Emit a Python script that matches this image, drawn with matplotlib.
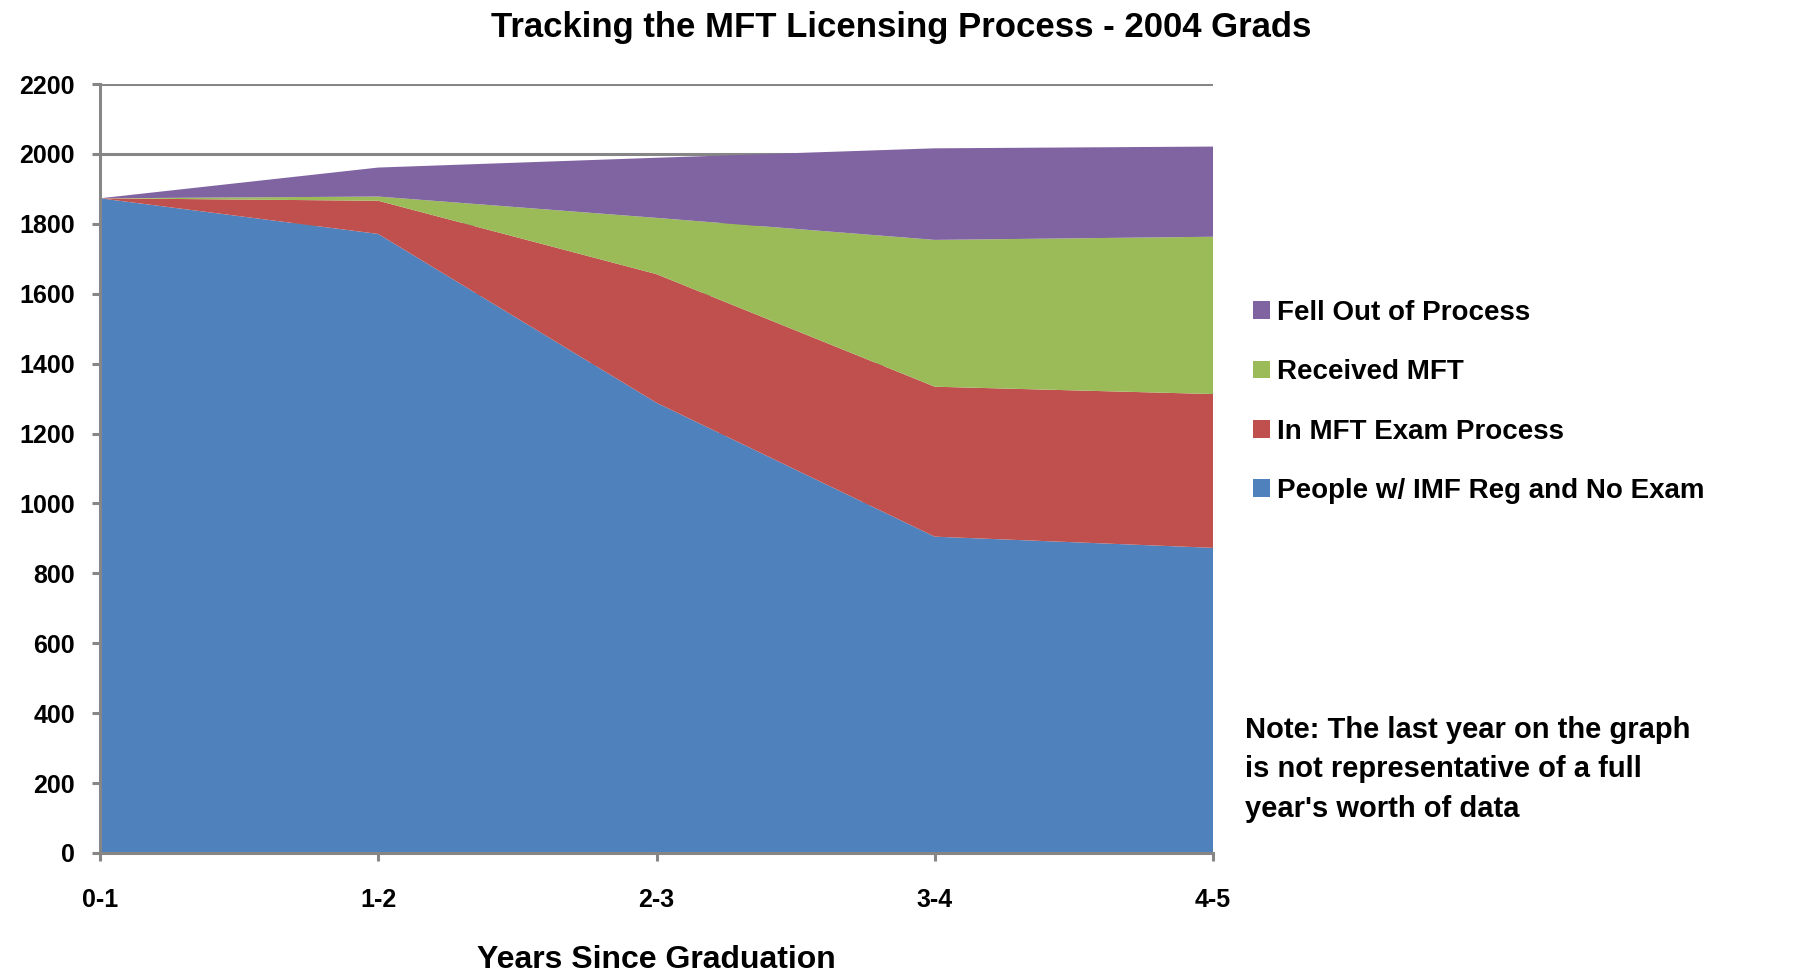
import matplotlib
matplotlib.use("Agg")
import matplotlib.pyplot as plt
from matplotlib.patches import Patch

plt.rcParams['font.family'] = ['Liberation Sans', 'DejaVu Sans']
plt.rcParams['font.weight'] = 'bold'

categories = ["0-1", "1-2", "2-3", "3-4", "4-5"]
no_exam = [1873, 1771, 1288, 905, 873]
in_exam = [0, 95, 368, 429, 440]
received = [0, 12, 161, 420, 450]
fell_out = [0, 83, 172, 262, 258]

series_labels = ["People w/ IMF Reg and No Exam", "In MFT Exam Process",
                 "Received MFT", "Fell Out of Process"]
colors = ["#4F81BD", "#C0504D", "#9BBB59", "#8064A2"]

W, H = 1796, 975
fig = plt.figure(figsize=(W / 100, H / 100), dpi=100)
ax = fig.add_axes([100 / W, 1 - 853 / H, (1213 - 100) / W, (853 - 84) / H])

x = list(range(len(categories)))
ax.stackplot(x, no_exam, in_exam, received, fell_out, colors=colors,
             linewidth=0, zorder=2)

ax.set_xlim(0, len(categories) - 1)
ax.set_ylim(0, 2200)
ax.set_yticks(range(0, 2201, 200))
ax.set_xticks(x)
ax.set_xticklabels(categories)

grid_col = "#868686"
ax.set_axisbelow(True)
ax.yaxis.grid(True, color=grid_col, linewidth=2.2)
ax.xaxis.grid(False)
for s in ["top", "right"]:
    ax.spines[s].set_visible(False)
for s in ["left", "bottom"]:
    ax.spines[s].set_color(grid_col)
    ax.spines[s].set_linewidth(2.2)
    ax.spines[s].set_zorder(3)

ax.tick_params(axis="both", colors=grid_col, width=2.2, length=6,
               labelcolor="black", labelsize=18)
ax.tick_params(axis="y", pad=12)
ax.tick_params(axis="x", pad=19)
for lab in ax.get_xticklabels() + ax.get_yticklabels():
    lab.set_fontweight("bold")

fig.text(901 / W, 1 - 27 / H, "Tracking the MFT Licensing Process - 2004 Grads",
         ha="center", va="center", fontsize=25, fontweight="bold")
fig.text(656 / W, 1 - 960 / H, "Years Since Graduation",
         ha="center", va="center", fontsize=23, fontweight="bold")

handles = [Patch(facecolor=c, edgecolor="none") for c in colors]
leg = fig.legend(handles[::-1], series_labels[::-1],
                 loc="upper left", bbox_to_anchor=(1253 / W, 1 - 300 / H),
                 frameon=False, fontsize=20, handlelength=0.6,
                 handleheight=0.6, handletextpad=0.25, labelspacing=1.2,
                 borderpad=0, borderaxespad=0)
for t in leg.get_texts():
    t.set_fontweight("bold")

fig.text(1245 / W, 1 - 716 / H,
         "Note: The last year on the graph\nis not representative of a full\nyear's worth of data",
         ha="left", va="top", fontsize=21, fontweight="bold", linespacing=1.52)

fig.savefig("out.png", dpi=100)
